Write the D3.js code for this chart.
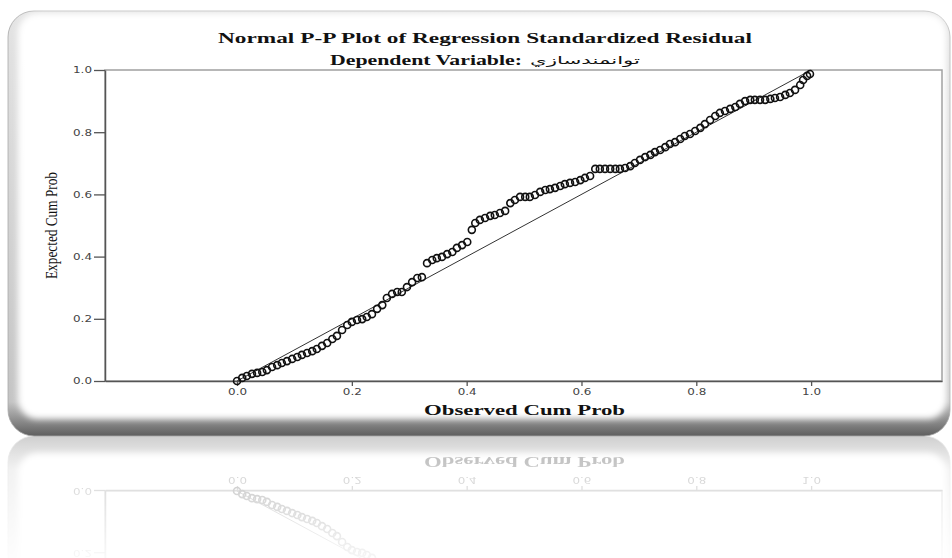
<!DOCTYPE html>
<html>
<head>
<meta charset="utf-8">
<script src="https://cdn.jsdelivr.net/npm/d3@7"></script>
<style>
  body { margin: 0; background: #fff; }
  svg { display: block; }
</style>
</head>
<body>
<div id="chart"></div>
<script>
// observed vs expected cumulative probability
const observed = [0.000,0.009,0.017,0.026,0.035,0.044,0.052,0.061,0.070,0.078,
  0.087,0.096,0.105,0.113,0.122,0.131,0.139,0.148,0.157,0.166,
  0.174,0.183,0.192,0.200,0.209,0.218,0.226,0.235,0.244,0.253,
  0.261,0.270,0.279,0.287,0.296,0.305,0.314,0.322,0.331,0.340,
  0.348,0.357,0.366,0.375,0.383,0.392,0.401,0.409,0.415,0.423,
  0.432,0.441,0.449,0.458,0.467,0.476,0.484,0.493,0.502,0.510,
  0.519,0.528,0.537,0.545,0.554,0.563,0.571,0.580,0.589,0.598,
  0.606,0.615,0.624,0.632,0.641,0.650,0.659,0.667,0.676,0.685,
  0.693,0.702,0.711,0.720,0.728,0.737,0.746,0.754,0.763,0.772,
  0.780,0.789,0.798,0.807,0.815,0.824,0.833,0.841,0.850,0.859,
  0.868,0.876,0.885,0.894,0.902,0.911,0.920,0.929,0.937,0.946,
  0.955,0.963,0.972,0.981,0.986,0.993,0.998];
const expected = [0.000,0.010,0.016,0.023,0.026,0.029,0.035,0.045,0.051,0.058,
  0.064,0.071,0.077,0.084,0.090,0.096,0.103,0.113,0.122,0.135,
  0.145,0.164,0.180,0.190,0.196,0.199,0.206,0.215,0.232,0.244,
  0.267,0.280,0.286,0.286,0.302,0.318,0.331,0.334,0.379,0.389,
  0.395,0.399,0.408,0.415,0.428,0.437,0.447,0.486,0.508,0.518,
  0.524,0.531,0.534,0.540,0.547,0.572,0.582,0.592,0.592,0.592,
  0.598,0.608,0.614,0.617,0.621,0.627,0.633,0.637,0.640,0.646,
  0.653,0.659,0.682,0.682,0.682,0.682,0.682,0.682,0.685,0.691,
  0.701,0.711,0.720,0.727,0.736,0.743,0.752,0.762,0.768,0.778,
  0.788,0.794,0.804,0.814,0.826,0.839,0.852,0.862,0.868,0.875,
  0.881,0.891,0.900,0.904,0.904,0.904,0.904,0.907,0.910,0.913,
  0.920,0.926,0.936,0.952,0.968,0.981,0.987];
const tickValues = [0.0, 0.2, 0.4, 0.6, 0.8, 1.0];
const titleText = "Normal P-P Plot of Regression Standardized Residual";
const subtitleText = "Dependent Variable:";
const variableName = "توانمندسازي";
const xLabel = "Observed Cum Prob";
const yLabel = "Expected Cum Prob";

const width = 952, height = 558;
const points = observed.map(function (d, i) { return { x: d, y: expected[i] }; });

const svg = d3.select("#chart").append("svg")
  .attr("width", width).attr("height", height);

const defs = svg.append("defs");
const cardGrad = defs.append("linearGradient").attr("id", "cardGrad")
  .attr("x1", 0).attr("y1", 0).attr("x2", 0).attr("y2", 1);
cardGrad.append("stop").attr("offset", "0%").attr("stop-color", "#e4e4e4");
cardGrad.append("stop").attr("offset", "92%").attr("stop-color", "#c4c4c4");
cardGrad.append("stop").attr("offset", "100%").attr("stop-color", "#5e5e5e");
defs.append("filter").attr("id", "soft")
  .attr("x", "-5%").attr("y", "-5%").attr("width", "110%").attr("height", "110%")
  .append("feGaussianBlur").attr("stdDeviation", 3);
const fade = defs.append("linearGradient").attr("id", "fadeGrad")
  .attr("gradientUnits", "userSpaceOnUse")
  .attr("x1", 0).attr("y1", 436).attr("x2", 0).attr("y2", 558);
fade.append("stop").attr("offset", "0%").attr("stop-color", "#fff").attr("stop-opacity", 0.3);
fade.append("stop").attr("offset", "100%").attr("stop-color", "#fff").attr("stop-opacity", 0.04);
defs.append("mask").attr("id", "fadeMask")
  .attr("maskUnits", "userSpaceOnUse")
  .attr("x", 0).attr("y", 436).attr("width", width).attr("height", 122)
  .append("rect").attr("x", 0).attr("y", 436).attr("width", width).attr("height", 122)
  .attr("fill", "url(#fadeGrad)");

const main = svg.append("g").attr("id", "main");

// card with bevelled edges
main.append("rect")
  .attr("x", 8).attr("y", 11).attr("width", 942).attr("height", 425).attr("rx", 26)
  .attr("fill", "url(#cardGrad)").attr("stroke", "#a8a8a8").attr("stroke-width", 0.8);
main.append("rect")
  .attr("x", 18).attr("y", 13).attr("width", 929).attr("height", 406).attr("rx", 20)
  .attr("fill", "#fff").attr("filter", "url(#soft)");

const x = d3.scaleLinear().domain([-0.23, 1.228]).range([105, 942]);
const y = d3.scaleLinear().domain([0, 1]).range([381, 70]);

// plot frame
main.append("rect")
  .attr("x", x(-0.23)).attr("y", y(1)).attr("width", x(1.228) - x(-0.23)).attr("height", y(0) - y(1))
  .attr("fill", "none").attr("stroke", "#a0a0a0").attr("stroke-width", 1.5);

const xAxis = main.append("g").attr("transform", "translate(0," + y(0) + ")")
  .call(d3.axisBottom(x).tickValues(tickValues).tickFormat(d3.format(".1f"))
    .tickSize(5).tickPadding(3).tickSizeOuter(0));
const yAxis = main.append("g").attr("transform", "translate(" + x(-0.23) + ",0)")
  .call(d3.axisLeft(y).tickValues(tickValues).tickFormat(d3.format(".1f"))
    .tickSize(11).tickPadding(2).tickSizeOuter(0));

[xAxis, yAxis].forEach(function (ax) {
  ax.select(".domain").attr("stroke", "#555").attr("stroke-width", 1.5);
  ax.selectAll(".tick line").attr("stroke", "#555").attr("stroke-width", 1.3);
  ax.selectAll(".tick text")
    .attr("font-family", "DejaVu Sans").attr("font-size", 9).attr("fill", "#444")
    .attr("textLength", 19).attr("lengthAdjust", "spacingAndGlyphs");
});

// reference diagonal
main.append("line")
  .attr("x1", x(0)).attr("y1", y(0)).attr("x2", x(1)).attr("y2", y(1))
  .attr("stroke", "#333").attr("stroke-width", 1);

main.append("g").selectAll("circle").data(points).join("circle")
  .attr("cx", function (d) { return x(d.x); })
  .attr("cy", function (d) { return y(d.y); })
  .attr("r", 3.5)
  .attr("fill", "none").attr("stroke", "#111").attr("stroke-width", 1.6);

// titles
main.append("text").text(titleText)
  .attr("x", 218).attr("y", 43)
  .attr("font-family", "Liberation Serif").attr("font-weight", "bold").attr("font-size", 15)
  .attr("fill", "#111").attr("textLength", 534).attr("lengthAdjust", "spacingAndGlyphs");
main.append("text").text(subtitleText)
  .attr("x", 330).attr("y", 65)
  .attr("font-family", "Liberation Serif").attr("font-weight", "bold").attr("font-size", 14)
  .attr("fill", "#111").attr("textLength", 192).attr("lengthAdjust", "spacingAndGlyphs");
main.append("text").text(variableName)
  .attr("x", 530).attr("y", 64)
  .attr("font-family", "DejaVu Sans").attr("font-size", 11)
  .attr("fill", "#111").attr("textLength", 110).attr("lengthAdjust", "spacingAndGlyphs");

main.append("text").text(xLabel)
  .attr("x", 424).attr("y", 415)
  .attr("font-family", "Liberation Serif").attr("font-weight", "bold").attr("font-size", 14)
  .attr("fill", "#111").attr("textLength", 201).attr("lengthAdjust", "spacingAndGlyphs");
main.append("text").text(yLabel)
  .attr("transform", "translate(57,279) rotate(-90)")
  .attr("font-family", "Liberation Serif").attr("font-size", 16)
  .attr("fill", "#111").attr("textLength", 107).attr("lengthAdjust", "spacingAndGlyphs");

// faded mirror image under the card
svg.append("g").attr("mask", "url(#fadeMask)")
  .append("use").attr("href", "#main")
  .attr("transform", "translate(0,872) scale(1,-1)");
</script>
</body>
</html>
